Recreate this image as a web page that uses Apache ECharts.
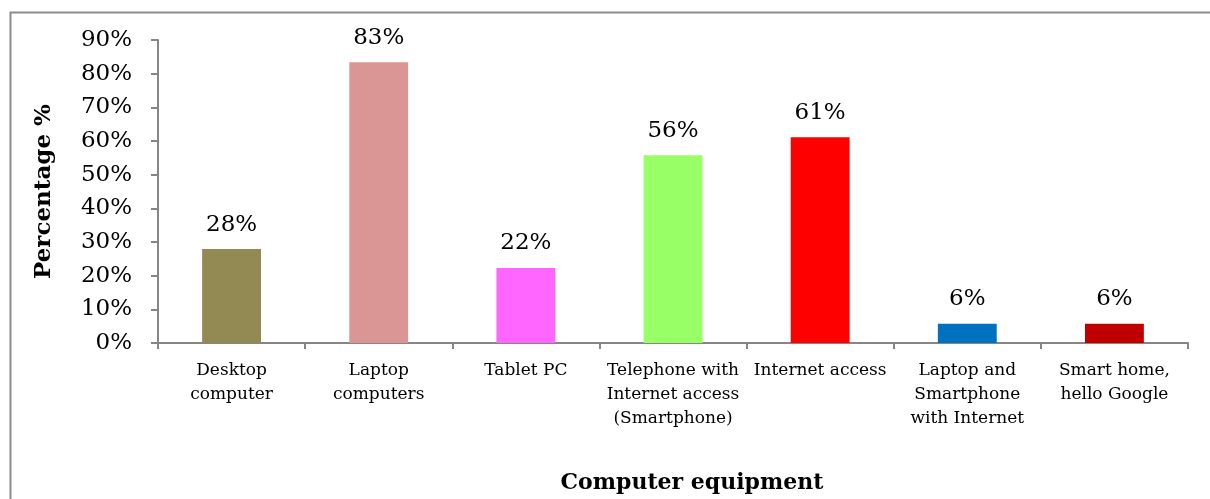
<!DOCTYPE html>
<html>
<head>
<meta charset="utf-8">
<script src="https://cdn.jsdelivr.net/npm/echarts@6/dist/echarts.min.js"></script>
<style>html,body{margin:0;padding:0;background:#fff}#c{width:1210px;height:499px}</style>
</head>
<body>
<div id="c"></div>
<script>
var categories = ['Desktop\ncomputer', 'Laptop\ncomputers', 'Tablet PC', 'Telephone with\nInternet access\n(Smartphone)', 'Internet access', 'Laptop and\nSmartphone\nwith Internet', 'Smart home,\nhello Google'];
var values = [27.9, 83.4, 22.3, 55.8, 61.1, 5.7, 5.7];
var colors = ['#938953', '#D99694', '#FF66FF', '#99FF66', '#FF0000', '#0070C0', '#C00000'];
var yTicks = [0, 10, 20, 30, 40, 50, 60, 70, 80, 90];

var FONT = 'DejaVu Serif';
var chart = echarts.init(document.getElementById('c'), null, {renderer: 'canvas'});
chart.setOption({
  animation: false,
  backgroundColor: '#fff',
  graphic: [{
    type: 'rect', left: 8, top: 10,
    shape: {x: 0, y: 0, width: 1230, height: 520},
    style: {fill: 'none', stroke: '#8c8c8c', lineWidth: 2}
  }],
  grid: {left: 158, right: 22, top: 40, bottom: 155, containLabel: false},
  xAxis: {
    type: 'category',
    data: categories,
    name: 'Computer equipment',
    nameLocation: 'middle',
    nameGap: 129,
    nameTextStyle: {fontFamily: FONT, fontWeight: 'bold', fontSize: 22, color: '#000', padding: [0, 0, 0, 38]},
    axisLine: {lineStyle: {color: '#868686', width: 2}},
    axisTick: {show: true, length: 6, lineStyle: {color: '#868686', width: 2}, alignWithLabel: false},
    axisLabel: {interval: 0, fontFamily: FONT, fontSize: 17, color: '#000', lineHeight: 24, margin: 16}
  },
  yAxis: {
    type: 'value',
    min: 0, max: 90, interval: 10,
    name: 'Percentage %',
    nameLocation: 'middle',
    nameGap: 102,
    nameRotate: 90,
    nameTextStyle: {fontFamily: FONT, fontWeight: 'bold', fontSize: 23, color: '#000'},
    axisLine: {show: true, lineStyle: {color: '#868686', width: 2}},
    axisTick: {show: true, length: 7, lineStyle: {color: '#868686', width: 2}},
    splitLine: {show: false},
    axisLabel: {fontFamily: FONT, fontSize: 23, color: '#000', margin: 26,
      formatter: function (v) { return yTicks.indexOf(v) >= 0 ? v + '%' : ''; }}
  },
  series: [{
    type: 'bar',
    barWidth: '40%',
    data: values.map(function (v, i) { return {value: v, itemStyle: {color: colors[i]}}; }),
    label: {show: true, position: 'top', distance: 13, fontFamily: FONT, fontSize: 23, color: '#000',
      formatter: function (p) { return Math.round(p.value) + '%'; }}
  }]
});
</script>
</body>
</html>
